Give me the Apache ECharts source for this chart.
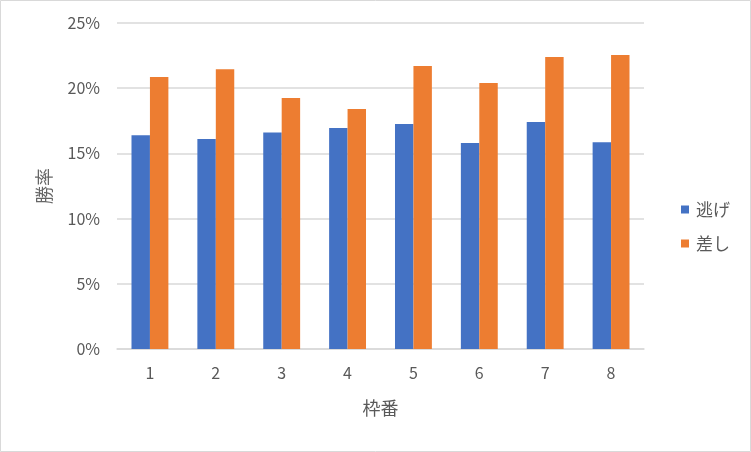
<!DOCTYPE html>
<html>
<head>
<meta charset="utf-8">
<script src="https://cdn.jsdelivr.net/npm/echarts@6/dist/echarts.min.js"></script>
<style>
html,body{margin:0;padding:0;background:#fff;}
#c{width:751px;height:452px;}
</style>
</head>
<body>
<div id="c"></div>
<script>
const categories = ['1','2','3','4','5','6','7','8'];
const nigeValues = [16.4, 16.1, 16.6, 16.95, 17.25, 15.8, 17.4, 15.85];
const sashiValues = [20.85, 21.45, 19.25, 18.4, 21.7, 20.4, 22.4, 22.55];
const seriesNames = ['逃げ', '差し'];
const xAxisTitle = '枠番';
const yAxisTitle = '勝率';

const FONT = '"Noto Sans CJK JP", "Noto Sans", sans-serif';
const chart = echarts.init(document.getElementById('c'), null, {renderer: 'canvas'});
chart.setOption({
  animation: false,
  backgroundColor: '#ffffff',
  textStyle: {fontFamily: FONT},
  graphic: [{
    type: 'rect', silent: true, z: -10,
    shape: {x: 0.5, y: 0.5, width: 750, height: 451},
    style: {fill: 'none', stroke: '#d9d9d9', lineWidth: 1}
  }],
  grid: {left: 117, right: 107, top: 23, bottom: 103, containLabel: false},
  legend: {
    orient: 'vertical', left: 676, top: 196,
    itemWidth: 8, itemHeight: 8, itemGap: 17,
    icon: 'rect',
    textStyle: {color: '#595959', fontSize: 17, fontFamily: FONT, padding: [0,0,0,2]},
    data: seriesNames
  },
  xAxis: {
    type: 'category', data: categories,
    name: xAxisTitle, nameLocation: 'middle', nameGap: 50,
    nameTextStyle: {color: '#595959', fontSize: 18, fontFamily: FONT},
    axisLine: {show: true, lineStyle: {color: '#d9d9d9', width: 1.5}},
    axisTick: {show: false},
    axisLabel: {color: '#595959', fontSize: 16, margin: 16, fontFamily: FONT}
  },
  yAxis: {
    type: 'value', min: 0, max: 25, interval: 5,
    name: yAxisTitle, nameLocation: 'middle', nameGap: 64, nameRotate: 90,
    nameTextStyle: {color: '#666666', fontSize: 18, fontFamily: FONT},
    axisLine: {show: false}, axisTick: {show: false},
    axisLabel: {color: '#595959', fontSize: 16, margin: 17, fontFamily: FONT, formatter: v => v + '%'},
    splitLine: {lineStyle: {color: '#d9d9d9', width: 1.5}}
  },
  series: [
    {name: seriesNames[0], type: 'bar', data: nigeValues, barGap: '0%', barCategoryGap: '44%', itemStyle: {color: '#4472C4'}},
    {name: seriesNames[1], type: 'bar', data: sashiValues, barGap: '0%', barCategoryGap: '44%', itemStyle: {color: '#ED7D31'}}
  ]
});
</script>
</body>
</html>
